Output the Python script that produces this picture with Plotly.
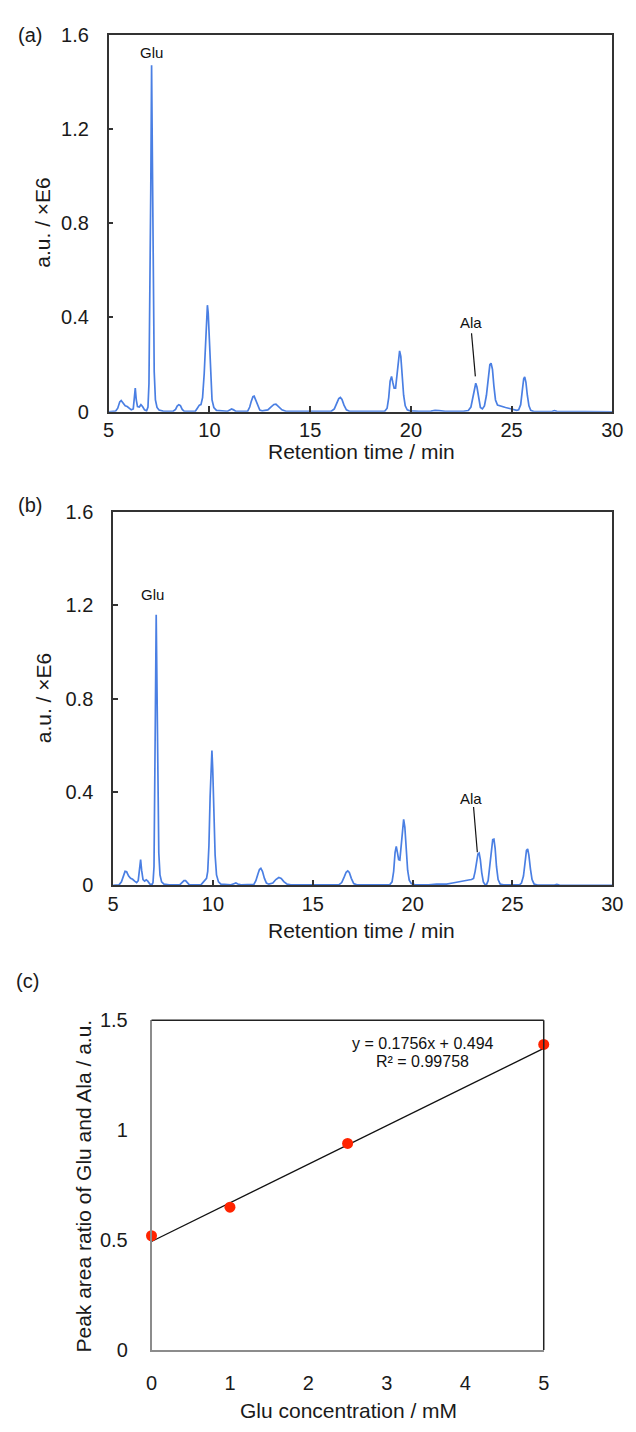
import plotly.graph_objects as go

# ---------------- data ----------------
# Panel (a) chromatogram: (retention time [min], signal [x1E6])
trace_a = [
    (5.0, 0.0), (5.35, 0.003), (5.45, 0.015), (5.55, 0.042), (5.62, 0.048), (5.72, 0.038),
    (5.82, 0.025), (5.92, 0.022), (6.02, 0.015), (6.12, 0.008), (6.22, 0.012), (6.27, 0.045),
    (6.32, 0.10), (6.37, 0.05), (6.43, 0.022), (6.52, 0.02), (6.6, 0.03), (6.68, 0.022),
    (6.78, 0.008), (6.88, 0.004), (6.95, 0.02), (7.0, 0.12), (7.05, 0.45), (7.09, 0.95),
    (7.13, 1.47), (7.17, 0.98), (7.21, 0.48), (7.26, 0.17), (7.32, 0.05), (7.4, 0.018),
    (7.5, 0.007), (7.7, 0.003), (8.2, 0.002), (8.32, 0.01), (8.4, 0.024), (8.48, 0.03),
    (8.56, 0.026), (8.65, 0.01), (8.75, 0.002), (9.3, 0.002), (9.4, 0.015), (9.5, 0.028),
    (9.58, 0.03), (9.66, 0.06), (9.74, 0.16), (9.8, 0.3), (9.86, 0.43), (9.9, 0.452),
    (9.94, 0.42), (10.0, 0.28), (10.06, 0.14), (10.13, 0.05), (10.22, 0.018), (10.35, 0.006),
    (10.9, 0.002), (11.0, 0.008), (11.1, 0.012), (11.2, 0.008), (11.3, 0.002), (11.9, 0.003),
    (12.0, 0.02), (12.08, 0.045), (12.16, 0.064), (12.22, 0.066), (12.3, 0.05), (12.4, 0.022),
    (12.5, 0.007), (12.62, 0.004), (12.9, 0.008), (13.05, 0.02), (13.2, 0.031), (13.3, 0.032),
    (13.45, 0.02), (13.6, 0.008), (13.8, 0.002), (16.05, 0.002), (16.2, 0.012), (16.32, 0.035),
    (16.42, 0.056), (16.5, 0.061), (16.58, 0.052), (16.68, 0.028), (16.8, 0.008), (16.95, 0.002),
    (17.6, 0.002), (17.75, 0.004), (17.9, 0.002), (18.7, 0.002), (18.82, 0.015), (18.9, 0.06),
    (18.97, 0.13), (19.04, 0.15), (19.1, 0.125), (19.17, 0.1), (19.24, 0.1), (19.3, 0.15),
    (19.37, 0.23), (19.44, 0.258), (19.5, 0.235), (19.57, 0.15), (19.64, 0.07), (19.72, 0.025),
    (19.82, 0.008), (19.95, 0.004), (20.4, 0.002), (21.0, 0.003), (21.2, 0.006), (21.4, 0.005),
    (21.7, 0.002), (22.6, 0.002), (22.85, 0.005), (22.98, 0.02), (23.08, 0.06), (23.16, 0.105),
    (23.22, 0.121), (23.28, 0.105), (23.36, 0.055), (23.45, 0.018), (23.55, 0.012), (23.65, 0.025),
    (23.75, 0.07), (23.84, 0.15), (23.92, 0.2), (23.98, 0.206), (24.05, 0.18), (24.12, 0.11),
    (24.2, 0.05), (24.3, 0.028), (24.5, 0.022), (24.7, 0.018), (24.9, 0.014), (25.1, 0.01),
    (25.25, 0.006), (25.35, 0.008), (25.45, 0.03), (25.53, 0.09), (25.6, 0.14), (25.65, 0.148),
    (25.71, 0.125), (25.78, 0.07), (25.86, 0.025), (25.95, 0.006), (26.1, 0.001), (27.0, 0.001),
    (27.12, 0.005), (27.25, 0.002), (28.4, 0.001), (28.5, 0.002), (28.6, 0.001), (30.0, 0.0),
]

# Panel (b) chromatogram
trace_b = [
    (5.0, 0.0), (5.3, 0.002), (5.42, 0.015), (5.52, 0.045), (5.6, 0.06), (5.68, 0.058),
    (5.78, 0.04), (5.88, 0.03), (5.98, 0.026), (6.08, 0.018), (6.18, 0.012), (6.26, 0.02),
    (6.32, 0.06), (6.38, 0.11), (6.43, 0.065), (6.5, 0.025), (6.58, 0.018), (6.66, 0.024),
    (6.74, 0.018), (6.84, 0.006), (6.95, 0.003), (7.0, 0.012), (7.05, 0.08), (7.09, 0.35),
    (7.12, 0.75), (7.16, 1.16), (7.2, 0.8), (7.24, 0.4), (7.29, 0.14), (7.35, 0.045),
    (7.43, 0.015), (7.55, 0.005), (7.8, 0.002), (8.35, 0.003), (8.45, 0.012), (8.55, 0.02),
    (8.63, 0.02), (8.72, 0.01), (8.82, 0.002), (9.4, 0.002), (9.5, 0.012), (9.6, 0.026),
    (9.68, 0.03), (9.74, 0.06), (9.8, 0.17), (9.86, 0.38), (9.92, 0.57), (9.95, 0.578),
    (9.99, 0.5), (10.05, 0.3), (10.11, 0.13), (10.18, 0.045), (10.28, 0.015), (10.4, 0.005),
    (10.9, 0.002), (11.05, 0.007), (11.15, 0.01), (11.25, 0.006), (11.4, 0.002), (12.05, 0.004),
    (12.15, 0.02), (12.25, 0.048), (12.33, 0.068), (12.4, 0.073), (12.48, 0.06), (12.58, 0.03),
    (12.68, 0.01), (12.8, 0.005), (13.0, 0.01), (13.15, 0.025), (13.3, 0.034), (13.42, 0.03),
    (13.55, 0.016), (13.7, 0.006), (13.9, 0.002), (16.3, 0.002), (16.45, 0.012), (16.57, 0.035),
    (16.67, 0.056), (16.75, 0.062), (16.83, 0.055), (16.93, 0.03), (17.05, 0.008), (17.2, 0.002),
    (17.9, 0.002), (18.05, 0.004), (18.2, 0.002), (18.85, 0.002), (18.97, 0.015), (19.05, 0.06),
    (19.12, 0.14), (19.18, 0.167), (19.24, 0.14), (19.3, 0.11), (19.36, 0.108), (19.42, 0.16),
    (19.49, 0.25), (19.55, 0.283), (19.61, 0.25), (19.68, 0.15), (19.75, 0.065), (19.83, 0.022),
    (19.93, 0.008), (20.1, 0.003), (20.8, 0.002), (21.2, 0.005), (21.45, 0.006), (21.7, 0.005),
    (22.0, 0.01), (22.3, 0.016), (22.6, 0.021), (22.8, 0.023), (22.95, 0.025), (23.05, 0.03),
    (23.13, 0.06), (23.2, 0.11), (23.27, 0.135), (23.33, 0.139), (23.39, 0.11), (23.46, 0.055),
    (23.54, 0.015), (23.62, 0.004), (23.7, 0.003), (23.78, 0.02), (23.86, 0.08), (23.94, 0.16),
    (24.01, 0.196), (24.07, 0.198), (24.13, 0.16), (24.2, 0.08), (24.28, 0.025), (24.38, 0.006),
    (24.55, 0.002), (25.35, 0.002), (25.45, 0.01), (25.55, 0.04), (25.63, 0.1), (25.7, 0.15),
    (25.76, 0.156), (25.82, 0.13), (25.9, 0.07), (25.98, 0.025), (26.08, 0.006), (26.25, 0.001),
    (27.1, 0.001), (27.22, 0.004), (27.35, 0.001), (28.4, 0.001), (28.55, 0.002), (28.7, 0.001),
    (30.0, 0.0),
]

rt_a = [p[0] for p in trace_a]
sig_a = [p[1] for p in trace_a]
rt_b = [p[0] for p in trace_b]
sig_b = [p[1] for p in trace_b]

# Panel (c) calibration
glu_conc = [0, 1, 2.5, 5]
area_ratio = [0.52, 0.65, 0.94, 1.39]
fit_x = [0, 5]
fit_y = [0.494, 1.372]
fit_eq = "y = 0.1756x + 0.494"
fit_r2 = "R² = 0.99758"

rt_ticks = [5, 10, 15, 20, 25, 30]
sig_ticks = [0, 0.4, 0.8, 1.2, 1.6]
sig_ticklabels = ["0", "0.4", "0.8", "1.2", "1.6"]
conc_ticks = [0, 1, 2, 3, 4, 5]
ratio_ticks = [0, 0.5, 1, 1.5]
ratio_ticklabels = ["0", "0.5", "1", "1.5"]

# ---------------- layout helpers ----------------
W, H = 636, 1432
FONT = "Liberation Sans, Arial, sans-serif"
BLUE = "#4a7fe3"


def fx(px):
    return px / W


def fy(py):
    return 1 - py / H


fig = go.Figure()

fig.add_trace(go.Scatter(x=rt_a, y=sig_a, mode="lines", line=dict(color=BLUE, width=1.7),
                         xaxis="x", yaxis="y", showlegend=False, hoverinfo="skip"))
fig.add_trace(go.Scatter(x=rt_b, y=sig_b, mode="lines", line=dict(color=BLUE, width=1.7),
                         xaxis="x2", yaxis="y2", showlegend=False, hoverinfo="skip"))
fig.add_trace(go.Scatter(x=fit_x, y=fit_y, mode="lines", line=dict(color="#111111", width=1.3),
                         xaxis="x3", yaxis="y3", showlegend=False, hoverinfo="skip"))
fig.add_trace(go.Scatter(x=glu_conc, y=area_ratio, mode="markers",
                         marker=dict(color="#ff2400", size=11, line=dict(width=0)),
                         xaxis="x3", yaxis="y3", showlegend=False, cliponaxis=False,
                         hoverinfo="skip"))

tickfont = dict(family=FONT, size=20, color="#1a1a1a")

chrom_x = dict(range=[5, 30], tickvals=rt_ticks, ticks="inside", ticklen=6, tickwidth=1.5,
               tickcolor="#333", showline=True, linecolor="#333", linewidth=1.5, mirror=True,
               showgrid=False, zeroline=False, tickfont=tickfont, ticklabelstandoff=0)
chrom_y = dict(range=[0, 1.6], tickvals=sig_ticks, ticktext=sig_ticklabels, ticks="inside",
               ticklen=5, tickwidth=1.5, tickcolor="#333", showline=True, linecolor="#333",
               linewidth=1.5, mirror=True, showgrid=False, zeroline=False, tickfont=tickfont,
               ticklabelstandoff=14)

fig.update_layout(
    width=W, height=H, margin=dict(l=0, r=0, t=0, b=0),
    paper_bgcolor="white", plot_bgcolor="white",
    font=dict(family=FONT, color="#1a1a1a"),
    xaxis=dict(domain=[fx(105.5), fx(623)], anchor="y", **chrom_x),
    yaxis=dict(domain=[fy(407), fy(24)], anchor="x", **chrom_y),
    xaxis2=dict(domain=[fx(110), fx(623)], anchor="y2", **chrom_x),
    yaxis2=dict(domain=[fy(888), fy(509)], anchor="x2", **chrom_y),
    xaxis3=dict(domain=[fx(149.5), fx(552.5)], anchor="y3", range=[0, 5], tickvals=conc_ticks,
                ticks="", showline=True, linecolor="#8c8c8c", linewidth=1.5, showgrid=False,
                zeroline=False, tickfont=tickfont, ticklabelstandoff=14),
    yaxis3=dict(domain=[fy(1360), fy(1025)], anchor="x3", range=[0, 1.5], tickvals=ratio_ticks,
                ticktext=ratio_ticklabels, ticks="", showline=True, linecolor="#8c8c8c",
                linewidth=1.5, showgrid=False, zeroline=False, tickfont=tickfont,
                ticklabelstandoff=18),
)

# top and right borders of panel (c)
fig.add_shape(type="line", xref="x3 domain", yref="y3 domain", x0=0, x1=1, y0=1, y1=1,
              line=dict(color="#222", width=1.5))
fig.add_shape(type="line", xref="x3 domain", yref="y3 domain", x0=1, x1=1, y0=0, y1=1,
              line=dict(color="#222", width=1.5))

# peak label leader lines (Ala)
fig.add_shape(type="line", xref="x", yref="y", x0=23.01, y0=0.333, x1=23.2, y1=0.15,
              line=dict(color="#111", width=1.2))
fig.add_shape(type="line", xref="x2", yref="y2", x0=23.05, y0=0.336, x1=23.24, y1=0.142,
              line=dict(color="#111", width=1.2))

ann = []
lab = dict(family=FONT, size=15, color="#111")
ann.append(dict(x=7.13, y=1.525, xref="x", yref="y", text="Glu", showarrow=False, font=lab))
ann.append(dict(x=22.96, y=0.378, xref="x", yref="y", text="Ala", showarrow=False, font=lab))
ann.append(dict(x=7.0, y=1.245, xref="x2", yref="y2", text="Glu", showarrow=False, font=lab))
ann.append(dict(x=22.94, y=0.374, xref="x2", yref="y2", text="Ala", showarrow=False, font=lab))
eqf = dict(family=FONT, size=16, color="#111")
ann.append(dict(x=3.46, y=1.395, xref="x3", yref="y3", text=fit_eq, showarrow=False, font=eqf))
ann.append(dict(x=3.46, y=1.313, xref="x3", yref="y3", text=fit_r2, showarrow=False, font=eqf))


def ptext(x, y, text, size=21, angle=0):
    ann.append(dict(x=fx(x), y=fy(y), xref="paper", yref="paper", text=text, showarrow=False,
                    textangle=angle, font=dict(family=FONT, size=size, color="#1a1a1a"),
                    xanchor="center", yanchor="middle"))


ptext(25, 24, "(a)", 20)
ptext(25, 502, "(b)", 20)
ptext(22, 985, "(c)", 20)
ptext(38, 215, "a.u. / ×E6", 21, -90)
ptext(38, 698, "a.u. / ×E6", 21, -90)
ptext(365, 447, "Retention time / min", 21)
ptext(365, 934, "Retention time / min", 21)
ptext(80, 1193, "Peak area ratio of Glu and Ala / a.u.", 21, -90)
ptext(352, 1421, "Glu concentration / mM", 21)

fig.update_layout(annotations=ann)

fig.write_html("out.html")
